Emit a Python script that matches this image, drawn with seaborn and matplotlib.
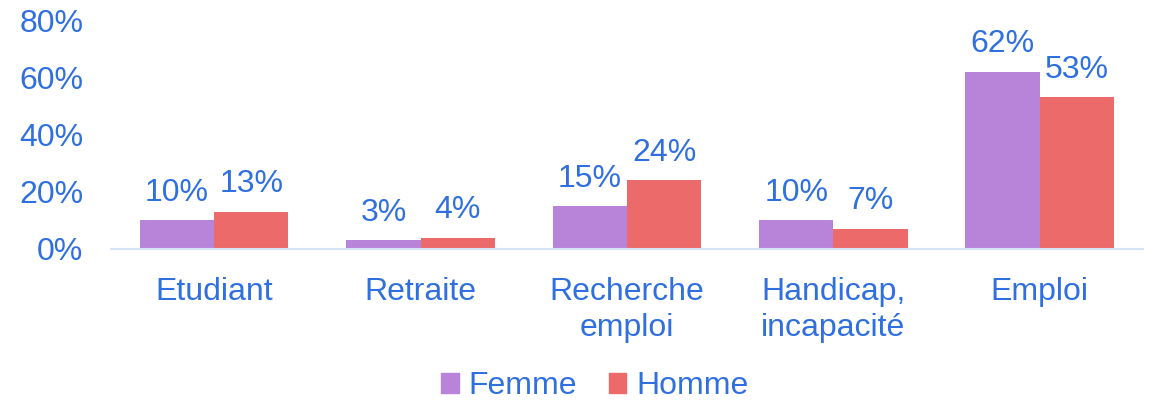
import matplotlib
matplotlib.use("Agg")
from matplotlib import pyplot as plt
import numpy as np
import pandas as pd
import seaborn as sns

# data
categories = ["Etudiant", "Retraite", "Recherche\nemploi", "Handicap,\nincapacité", "Emploi"]
femme = [10, 3, 15, 10, 62]
homme = [13, 4, 24, 7, 53]
series = ["Femme", "Homme"]
yticks = [0, 20, 40, 60, 80]

colors = {"Femme": "#B884D9", "Homme": "#EC6A6A"}
text_color = "#2F6FE0"

sns.set_style("white")
plt.rcParams["font.family"] = ["Liberation Sans", "DejaVu Sans"]

df = pd.DataFrame(
    {
        "categorie": categories * 2,
        "sexe": ["Femme"] * len(categories) + ["Homme"] * len(categories),
        "valeur": femme + homme,
    }
)

fig = plt.figure(figsize=(11.55, 4.0), dpi=100)
ax = fig.add_axes([0.0961, 0.3775, 0.8935, 0.5725])

sns.barplot(
    data=df,
    x="categorie",
    y="valeur",
    hue="sexe",
    palette=colors,
    width=0.72,
    saturation=1,
    edgecolor="none",
    ax=ax,
    legend=False,
)

for cont in ax.containers:
    ax.bar_label(cont, fmt="%d%%", padding=9, fontsize=23, color=text_color)

ax.set_ylim(0, 80)
ax.set_yticks(yticks)
ax.set_yticklabels([f"{t}%" for t in yticks])
ax.set_xlabel("")
ax.set_ylabel("")
ax.tick_params(axis="both", length=0, labelsize=23, labelcolor=text_color)
ax.tick_params(axis="y", pad=20)
ax.tick_params(axis="x", pad=20)
for lbl in ax.get_xticklabels():
    lbl.set_linespacing(1.25)

for side in ["top", "right", "left"]:
    ax.spines[side].set_visible(False)
ax.spines["bottom"].set_color("#D6E4F7")
ax.spines["bottom"].set_linewidth(1.5)

handles = [plt.Rectangle((0, 0), 1, 1, color=colors[s]) for s in series]
leg = fig.legend(
    handles,
    series,
    loc="lower center",
    bbox_to_anchor=(0.515, -0.075),
    ncol=2,
    frameon=False,
    fontsize=23,
    handlelength=0.55,
    handleheight=0.55,
    handletextpad=0.3,
    columnspacing=1.0,
)
for t in leg.get_texts():
    t.set_color(text_color)

plt.savefig("out.png", dpi=100)
plt.close()
